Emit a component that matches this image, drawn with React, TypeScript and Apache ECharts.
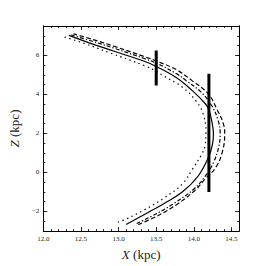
import React, { useEffect, useRef } from "react";
import * as echarts from "echarts";

// Curves: [X (kpc), Z (kpc)] ordered from bottom to top
const solidCurve: [number, number][] = [
  [13.10, -2.67], [13.35, -2.14], [13.60, -1.60], [13.85, -0.99], [14.06, -0.17],
  [14.20, 0.82], [14.25, 1.5], [14.26, 1.97], [14.24, 2.6], [14.20, 3.21],
  [14.15, 3.53], [13.98, 4.19], [13.77, 4.85], [13.50, 5.43], [13.35, 5.68],
  [12.93, 6.22], [12.60, 6.65], [12.34, 7.02],
];
const dottedCurve: [number, number][] = [
  [12.99, -2.55], [13.10, -2.39], [13.35, -1.90], [13.60, -1.32], [13.85, -0.58],
  [13.98, 0.16], [14.10, 0.9], [14.15, 1.4], [14.16, 2.05], [14.12, 3.04],
  [14.02, 3.70], [13.85, 4.36], [13.60, 4.94], [13.50, 5.18], [13.35, 5.46],
  [12.90, 6.10], [12.55, 6.60], [12.26, 6.96],
];
const dashDotCurve: [number, number][] = [
  [13.24, -2.62], [13.50, -2.12], [13.75, -1.55], [14.00, -0.85], [14.15, -0.2],
  [14.26, 0.5], [14.33, 1.3], [14.35, 1.97], [14.32, 2.7], [14.24, 3.4],
  [14.10, 4.1], [13.90, 4.7], [13.77, 5.05], [13.50, 5.6], [13.35, 5.82],
  [12.95, 6.35], [12.65, 6.72], [12.36, 7.05],
];
const dashedCurve: [number, number][] = [
  [13.26, -2.67], [13.52, -2.22], [13.77, -1.65], [14.02, -0.90], [14.15, -0.33],
  [14.29, 0.25], [14.38, 1.07], [14.41, 1.97], [14.40, 2.38], [14.31, 3.21],
  [14.19, 4.03], [13.98, 4.69], [13.77, 5.26], [13.50, 5.71], [13.35, 5.92],
  [12.95, 6.45], [12.65, 6.82], [12.40, 7.10],
];

// Error bars
const barX = [13.5, 14.2];
const barLow = [4.45, -1.0];
const barHigh = [6.25, 5.05];

// Axis ticks
const xMin = 12.0;
const xMax = 14.6;
const yMin = -3;
const yMax = 7.5;
const yLabelValues = [-2, 0, 2, 4, 6];

const FONT = "Liberation Serif";
const TXT = "#222";

export default function App() {
  const ref = useRef<HTMLDivElement>(null);
  useEffect(() => {
    if (!ref.current) return;
    const chart = echarts.init(ref.current, null, { renderer: "svg" });

    const lineAx = { show: true, onZero: false, lineStyle: { color: "#000", width: 1 } };
    const mkX = (pos: string, interval: number, len: number, labels: boolean, name?: string) => ({
      type: "value",
      position: pos,
      min: xMin,
      max: xMax,
      interval,
      axisLine: lineAx,
      axisTick: { show: true, inside: true, length: len, lineStyle: { color: "#000", width: 0.8 } },
      axisLabel: labels
        ? { show: true, fontFamily: FONT, fontSize: 7, color: TXT, margin: 4, showMaxLabel: false, formatter: (v: number) => v.toFixed(1) }
        : { show: false },
      splitLine: { show: false },
      name: name,
      nameLocation: "middle",
      nameGap: 17,
      nameTextStyle: {
        fontFamily: FONT, fontSize: 13, color: TXT,
        rich: { i: { fontFamily: FONT, fontSize: 13, fontStyle: "italic", color: TXT } },
      },
    });
    const mkY = (pos: string, len: number, labels: boolean, minor: boolean, name?: string) => ({
      type: "value",
      position: pos,
      min: yMin,
      max: yMax,
      ...(minor ? { interval: 0.5 } : {}),
      axisLine: lineAx,
      axisTick: minor
        ? { show: true, inside: true, length: len, lineStyle: { color: "#000", width: 0.8 } }
        : { show: true, inside: true, length: len, customValues: yLabelValues, lineStyle: { color: "#000", width: 0.8 } },
      axisLabel: labels
        ? { show: true, fontFamily: FONT, fontSize: 7, color: TXT, margin: 4, customValues: yLabelValues, formatter: (v: number) => (v < 0 ? "\u2212" + Math.abs(v) : String(v)) }
        : { show: false },
      splitLine: { show: false },
      name: name,
      nameLocation: "middle",
      nameRotate: 90,
      nameGap: 20,
      nameTextStyle: {
        fontFamily: FONT, fontSize: 13, color: TXT,
        rich: { i: { fontFamily: FONT, fontSize: 13, fontStyle: "italic", color: TXT } },
      },
    });

    const curveSeries = (data: [number, number][], type: any) => ({
      type: "line",
      data,
      xAxisIndex: 0,
      yAxisIndex: 0,
      showSymbol: false,
      symbol: "none",
      smooth: 0.4,
      lineStyle: { color: "#000", width: 1.2, type },
      z: 3,
    });

    const barSeries = barX.map((x, i) => ({
      type: "line",
      data: [[x, barLow[i]], [x, barHigh[i]]],
      xAxisIndex: 0,
      yAxisIndex: 0,
      showSymbol: false,
      symbol: "none",
      lineStyle: { color: "#000", width: 3, cap: "butt" },
      z: 4,
    }));

    chart.setOption({
      animation: false,
      backgroundColor: "#fff",
      grid: { left: 33, top: 26, width: 206, height: 213, containLabel: false },
      xAxis: [
        mkX("bottom", 0.5, 4, true, "{i|X} (kpc)"),
        mkX("bottom", 0.1, 2, false),
        mkX("top", 0.5, 4, false),
        mkX("top", 0.1, 2, false),
      ],
      yAxis: [
        mkY("left", 4, true, false, "{i|Z} (kpc)"),
        mkY("left", 2, false, true),
        mkY("right", 4, false, false),
        mkY("right", 2, false, true),
      ],
      series: [
        curveSeries(solidCurve, "solid"),
        curveSeries(dottedCurve, [1.4, 3.5]),
        curveSeries(dashDotCurve, [4, 2, 1.3, 2]),
        curveSeries(dashedCurve, [4.5, 2.5]),
        ...barSeries,
      ],
    });
    return () => chart.dispose();
  }, []);
  return (
    <div
      ref={ref}
      style={{ position: "absolute", left: 0, top: 0, width: 266, height: 266 }}
    />
  );
}
